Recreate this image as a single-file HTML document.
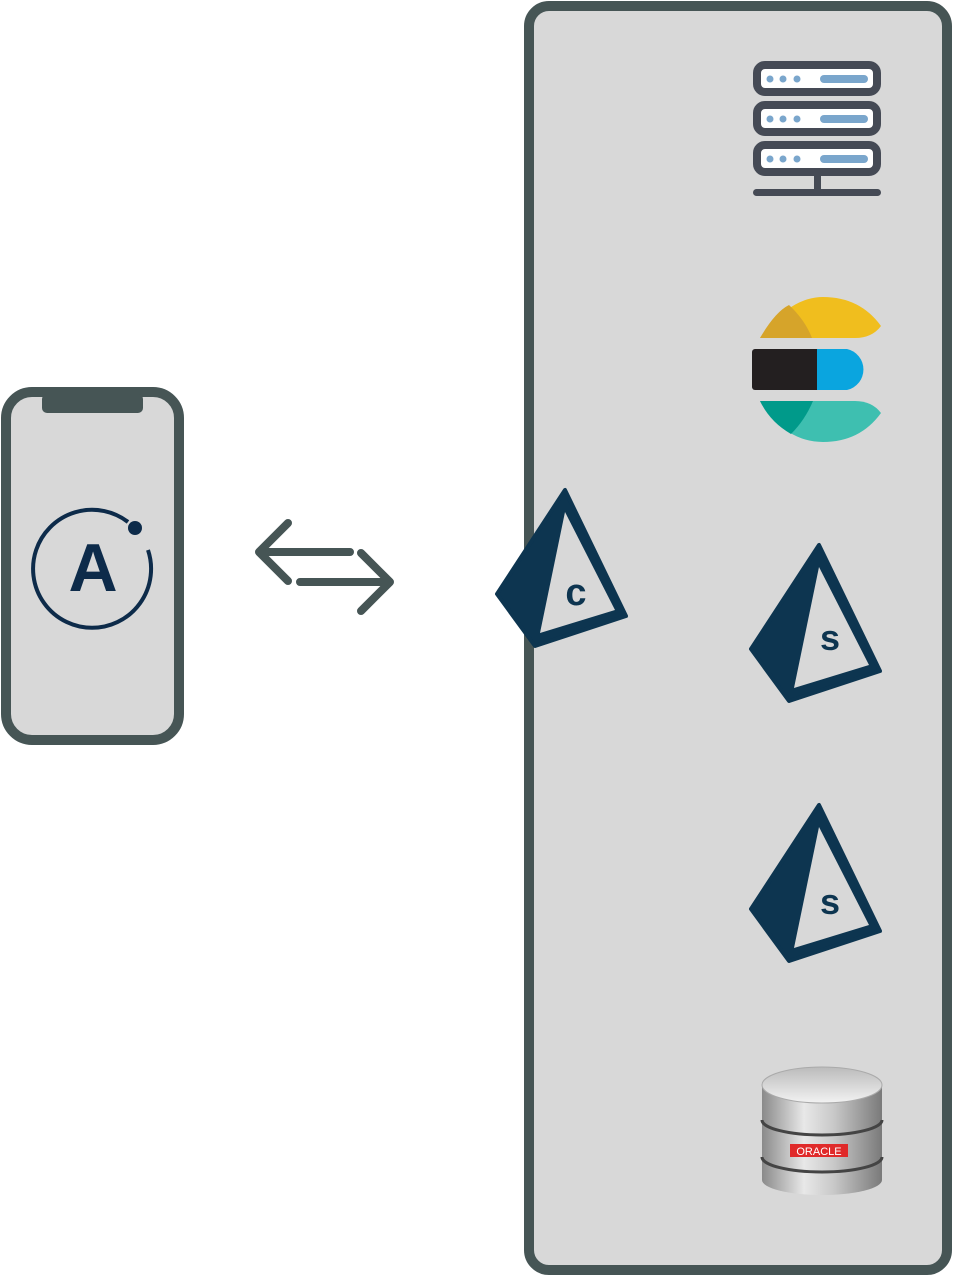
<!DOCTYPE html>
<html><head><style>body{margin:0;background:#fff}svg{display:block}</style></head><body>
<svg width="956" height="1276" viewBox="0 0 956 1276" xmlns="http://www.w3.org/2000/svg">
<defs>
<linearGradient id="cyl" x1="0" x2="1"><stop offset="0" stop-color="#8a8a8a"/><stop offset="0.35" stop-color="#e8e8e8"/><stop offset="0.6" stop-color="#c8c8c8"/><stop offset="1" stop-color="#7a7a7a"/></linearGradient>
<linearGradient id="top" x1="0" y1="0" x2="0" y2="1"><stop offset="0" stop-color="#bbb"/><stop offset="1" stop-color="#f2f2f2"/></linearGradient>
</defs>
<rect x="529" y="6" width="418" height="1264" rx="20" fill="#d8d8d8" stroke="#465555" stroke-width="10"/>
<rect x="6" y="392" width="173" height="348" rx="26" fill="#d8d8d8" stroke="#465555" stroke-width="10"/>
<rect x="42" y="394" width="101" height="19" rx="5" fill="#465555"/>
<path d="M128 522 A59 59 0 1 0 148 550" fill="none" stroke="#0d2b4a" stroke-width="4"/>
<circle cx="135" cy="528" r="7" fill="#0d2b4a"/>
<text x="93" y="591" font-family="Liberation Sans, sans-serif" font-weight="bold" font-size="68" fill="#0d2b4a" text-anchor="middle">A</text>
<g stroke="#465555" stroke-width="8" stroke-linecap="round" stroke-linejoin="round" fill="none">
<path d="M350 552 H260 M288 523 L259 552 L288 581"/>
<path d="M300 582 H390 M361 553 L390 582 L361 611"/>
</g>
<g id="pr">
<polygon points="565,490 497,594 535,646 626,616" fill="#0d3550" stroke="#0d3550" stroke-width="4" stroke-linejoin="round"/>
<polygon points="565,512 540,633 615,610" fill="#d8d8d8"/>
</g>
<text x="576" y="605" font-family="Liberation Sans, sans-serif" font-weight="bold" font-size="38" fill="#0d3550" text-anchor="middle">c</text>
<g transform="translate(254,55)"><use href="#pr"/></g>
<text x="830" y="650" font-family="Liberation Sans, sans-serif" font-weight="bold" font-size="36" fill="#0d3550" text-anchor="middle">s</text>
<g transform="translate(254,315)"><use href="#pr"/></g>
<text x="830" y="914" font-family="Liberation Sans, sans-serif" font-weight="bold" font-size="36" fill="#0d3550" text-anchor="middle">s</text>
<g fill="#fff" stroke="#454a55" stroke-width="8">
<rect x="757" y="65" width="120" height="27" rx="8"/>
<rect x="757" y="105" width="120" height="27" rx="8"/>
<rect x="757" y="145" width="120" height="27" rx="8"/>
</g>
<g fill="#7aa6cc">
<circle cx="770" cy="79" r="3.5"/><circle cx="783" cy="79" r="3.5"/><circle cx="797" cy="79" r="3.5"/><rect x="820" y="75" width="48" height="8" rx="4"/>
<circle cx="770" cy="119" r="3.5"/><circle cx="783" cy="119" r="3.5"/><circle cx="797" cy="119" r="3.5"/><rect x="820" y="115" width="48" height="8" rx="4"/>
<circle cx="770" cy="159" r="3.5"/><circle cx="783" cy="159" r="3.5"/><circle cx="797" cy="159" r="3.5"/><rect x="820" y="155" width="48" height="8" rx="4"/>
</g>
<rect x="814" y="175" width="7" height="17" fill="#454a55"/>
<rect x="753" y="189" width="128" height="7" rx="3.5" fill="#454a55"/>
<path d="M760 338 Q790 297 823 297 Q860 297 881 326 Q872 338 855 338 Z" fill="#f0be1e"/>
<path d="M760 338 Q775 312 789 305 Q805 320 812 338 Z" fill="#d6a42a"/>
<rect x="752" y="349" width="80" height="41" fill="#231f20" rx="3"/>
<path d="M817 349 H847 A21 21 0 0 1 847 390 H817 Z" fill="#0aa5df"/>
<path d="M760 401 H855 Q872 401 881 413 Q860 442 823 442 Q785 442 760 401 Z" fill="#3ebfb0"/>
<path d="M760 401 H813 Q805 420 791 434 Q770 422 760 401 Z" fill="#009a8a"/>
<path d="M762 1085 V1180 A60 15 0 0 0 882 1180 V1085 Z" fill="url(#cyl)"/>
<ellipse cx="822" cy="1085" rx="60" ry="18" fill="url(#top)" stroke="#aaa"/>
<path d="M762 1120 A60 15 0 0 0 882 1120 M762 1157 A60 15 0 0 0 882 1157" fill="none" stroke="#444" stroke-width="3"/>
<rect x="790" y="1144" width="58" height="13" fill="#e02a2a"/>
<text x="819" y="1155" font-family="Liberation Sans, sans-serif" font-size="11" fill="#fff" text-anchor="middle">ORACLE</text>
</svg>
</body></html>
